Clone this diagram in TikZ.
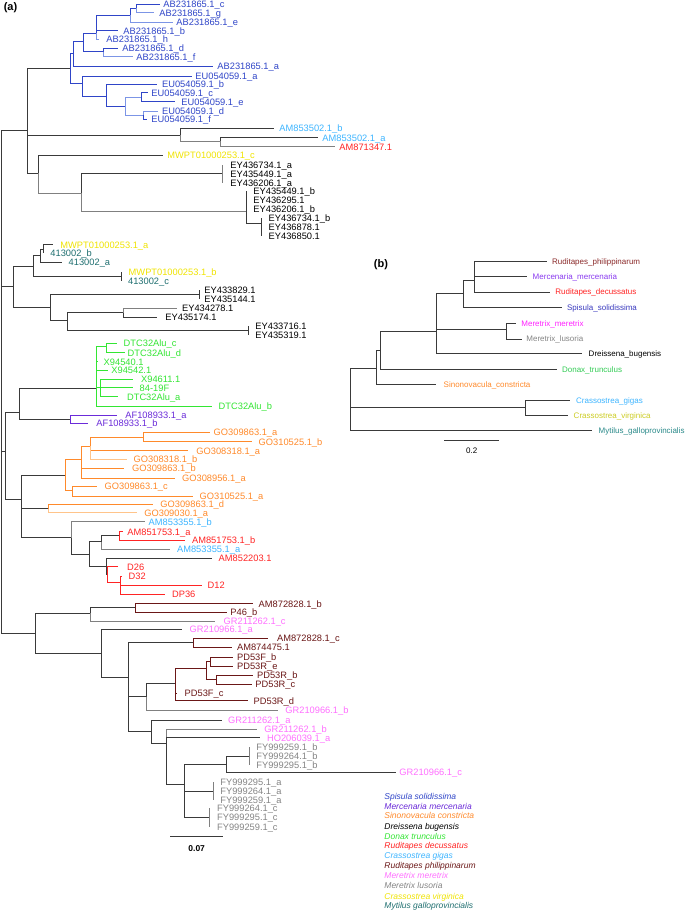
\documentclass[tikz,border=0pt]{standalone}
\usepackage{fontspec}
\setmainfont{Liberation Sans}
\definecolor{cSp}{HTML}{2F45C8}
\definecolor{cSpL}{HTML}{7C95E6}
\definecolor{cMe}{HTML}{6B2BD9}
\definecolor{cSi}{HTML}{FF8A2B}
\definecolor{cSiL}{HTML}{FFC48A}
\definecolor{cDo}{HTML}{33E633}
\definecolor{cRd}{HTML}{FF2424}
\definecolor{cCg}{HTML}{3DB5FF}
\definecolor{cRp}{HTML}{6B1717}
\definecolor{cMm}{HTML}{FF70FF}
\definecolor{cMl}{HTML}{858585}
\definecolor{cCv}{HTML}{F0E400}
\definecolor{cMg}{HTML}{1F6F70}
\definecolor{ln}{HTML}{3A3A3A}
\definecolor{lnG}{HTML}{808080}
\definecolor{bRp}{HTML}{8B2A2A}
\definecolor{bMe}{HTML}{8A3BF0}
\definecolor{bSp}{HTML}{3A3ABF}
\definecolor{bMm}{HTML}{FF22FF}
\definecolor{bDo}{HTML}{33CC55}
\definecolor{bCv}{HTML}{CCCC22}
\definecolor{bMg}{HTML}{2A8A8A}
\newcommand\nd[3]{\coordinate (#1) at (#2,#3);}
\newcommand\lf[6]{\coordinate (#1) at (#2,#3);\node[lab,text=#5] (#1t) at (#4,#3+3.3) {#6};}
\newcommand\lbb[6]{\coordinate (#1) at (#2,#3);\node[labb,text=#5] (#1t) at (#4,#3+2.9) {#6};}
\newcommand\ed[3][ln]{\draw[#1] (#2) |- (#3);}
\begin{document}
\begin{tikzpicture}[x=1pt,y=-1pt,line width=0.85pt,
  lab/.style={anchor=base west,inner sep=0pt,font=\fontsize{9.3}{10}\selectfont},
  labb/.style={anchor=base west,inner sep=0pt,font=\fontsize{8}{9}\selectfont},
  leg/.style={anchor=base west,inner sep=0pt,font=\fontsize{8.5}{9}\selectfont\itshape},
  panel/.style={inner sep=0pt,font=\fontsize{11}{12}\selectfont\bfseries}]
\useasboundingbox (0,0) rectangle (685,911);
\fill[white] (0,0) rectangle (685,911);
\node[panel] (pa) at (10.5,8) {(a)};
\node[panel] (pb) at (381,265) {(b)};
% ---------- tree (a) : top ----------
\nd{R}{1.7}{380}
\nd{T}{27}{130} \ed{R}{T}
\nd{Nb}{70}{68.3} \ed{T}{Nb}
\nd{Nam}{180}{135} \ed{T}{Nam}
\nd{Nmy}{38.3}{173.3} \ed{T}{Nmy}
% blue clade
\nd{Nab}{73.3}{53.3} \ed[cSp]{Nb}{Nab}
\nd{Neu}{82.7}{83.3} \ed[cSp]{Nb}{Neu}
\nd{Nab2}{83.3}{41.7} \ed[cSp]{Nab}{Nab2}
\lf{ABa}{213}{66}{217}{cSp}{AB231865.1\_a} \ed[cSp]{Nab}{ABa}
\nd{Nab3}{96.7}{33.3} \ed[cSp]{Nab2}{Nab3}
\nd{Ndf}{103.3}{51.7} \ed[cSp]{Nab2}{Ndf}
\nd{Nceg}{130}{15} \ed[cSp]{Nab3}{Nceg}
\lf{ABb}{118.3}{30.7}{123}{cSp}{AB231865.1\_b} \ed[cSp]{Nab3}{ABb}
\lf{ABh}{99.3}{39.3}{106}{cSp}{AB231865.1\_h} \ed[cSpL]{Nab3}{ABh}
\nd{Ncg}{136.7}{8} \ed[cSp]{Nceg}{Ncg}
\lf{ABe}{173}{22.3}{176}{cSp}{AB231865.1\_e} \ed[cSpL]{Nceg}{ABe}
\lf{ABc}{160}{4}{163}{cSp}{AB231865.1\_c} \ed[cSp]{Ncg}{ABc}
\lf{ABg}{154}{12.7}{159}{cSp}{AB231865.1\_g} \ed[cSpL]{Ncg}{ABg}
\lf{ABd}{118.3}{48.3}{122}{cSp}{AB231865.1\_d} \ed[cSp]{Ndf}{ABd}
\lf{ABf}{133}{56.7}{136}{cSp}{AB231865.1\_f} \ed[cSpL]{Ndf}{ABf}
\lf{EUa}{192}{76}{195}{cSp}{EU054059.1\_a} \ed[cSp]{Neu}{EUa}
\nd{Neu2}{106.7}{96.7} \ed[cSp]{Neu}{Neu2}
\lf{EUb}{157}{84.3}{161.7}{cSp}{EU054059.1\_b} \ed[cSp]{Neu2}{EUb}
\nd{Neu3}{125}{106.7} \ed[cSp]{Neu2}{Neu3}
\nd{Nce}{141.7}{97} \ed[cSpL]{Neu3}{Nce}
\nd{Ndf2}{143.3}{115} \ed[cSpL]{Neu3}{Ndf2}
\lf{EUc}{148.3}{92.7}{151}{cSp}{EU054059.1\_c} \ed[cSp]{Nce}{EUc}
\lf{EUe}{175}{101.7}{181}{cSp}{EU054059.1\_e} \ed[cSp]{Nce}{EUe}
\lf{EUd}{158}{111}{161.7}{cSp}{EU054059.1\_d} \ed[cSpL]{Ndf2}{EUd}
\lf{EUf}{146.7}{119.3}{151}{cSp}{EU054059.1\_f} \ed[cSp]{Ndf2}{EUf}
% AM clade
\lf{AMb}{274}{128.3}{279}{cCg}{AM853502.1\_b} \ed{Nam}{AMb}
\nd{Nam2}{220}{141} \ed[lnG]{Nam}{Nam2}
\lf{AMa}{318}{137.7}{322}{cCg}{AM853502.1\_a} \ed{Nam2}{AMa}
\lf{AMr}{335}{146.7}{339}{cRd}{AM871347.1} \ed[lnG]{Nam2}{AMr}
% MWPT / EY clade
\lf{MWc}{163.3}{155.6}{167}{cCv}{MWPT01000253.1\_c} \ed{Nmy}{MWc}
\nd{Ney}{81.7}{193.3} \ed[lnG]{Nmy}{Ney}
\nd{Ney1}{222.7}{173.7} \ed{Ney}{Ney1}
\lf{E1}{222.7}{165}{230}{black}{EY436734.1\_a} \ed[lnG]{Ney1}{E1}
\lf{E2}{222.7}{173.7}{230}{black}{EY435449.1\_a} \ed[lnG]{Ney1}{E2}
\lf{E3}{222.7}{182.7}{230}{black}{EY436206.1\_a} \ed[lnG]{Ney1}{E3}
\nd{Ney2}{246.7}{211.7} \ed[lnG]{Ney}{Ney2}
\lf{E4}{246.7}{190.7}{253}{black}{EY435449.1\_b} \ed{Ney2}{E4}
\lf{E5}{246.7}{200}{253}{black}{EY436295.1} \ed{Ney2}{E5}
\lf{E6}{246.7}{209.3}{253}{black}{EY436206.1\_b} \ed{Ney2}{E6}
\nd{Ney3}{261.7}{223.3} \ed{Ney2}{Ney3}
\lf{E7}{261.7}{218.3}{268.3}{black}{EY436734.1\_b} \ed{Ney3}{E7}
\lf{E8}{261.7}{227.3}{268.3}{black}{EY436878.1} \ed{Ney3}{E8}
\lf{E9}{261.7}{236.3}{268.3}{black}{EY436850.1} \ed{Ney3}{E9}
% ---------- middle ----------
\nd{Nmid}{13.3}{286.7} \ed{R}{Nmid}
\nd{Nmw}{33.7}{266} \ed{Nmid}{Nmw}
\nd{Ney4}{50}{307.3} \ed{Nmid}{Ney4}
\nd{N413}{40}{255} \ed{Nmw}{N413}
\nd{Nmwa}{43.3}{249} \ed{N413}{Nmwa}
\lf{MWa}{53.3}{244.7}{60}{cCv}{MWPT01000253.1\_a} \ed{Nmwa}{MWa}
\lf{Tb}{43.3}{253.3}{50}{cMg}{413002\_b} \ed{Nmwa}{Tb}
\lf{Ta}{61.7}{262.3}{68.3}{cMg}{413002\_a} \ed{N413}{Ta}
\nd{Nmwb}{121.7}{276.5} \ed{Nmw}{Nmwb}
\lf{MWb}{121.7}{272.3}{128.3}{cCv}{MWPT01000253.1\_b} \ed{Nmwb}{MWb}
\lf{Tc}{121.7}{281}{127.7}{cMg}{413002\_c} \ed{Nmwb}{Tc}
\nd{Neya}{199.3}{294.5} \ed{Ney4}{Neya}
\lf{E10}{199.3}{290}{204}{black}{EY433829.1} \ed{Neya}{E10}
\lf{E11}{199.3}{299}{204}{black}{EY435144.1} \ed{Neya}{E11}
\nd{Neyb}{67.7}{320} \ed{Ney4}{Neyb}
\nd{Neyc}{123.3}{312.7} \ed{Neyb}{Neyc}
\lf{E12}{176.7}{308.3}{181.7}{black}{EY434278.1} \ed[lnG]{Neyc}{E12}
\lf{E13}{157.3}{317.3}{165}{black}{EY435174.1} \ed{Neyc}{E13}
\nd{Neyd}{248.3}{330.5} \ed{Neyb}{Neyd}
\lf{E14}{248.3}{326}{255}{black}{EY433716.1} \ed{Neyd}{E14}
\lf{E15}{248.3}{335}{255}{black}{EY435319.1} \ed{Neyd}{E15}
% green & purple
\nd{Nx}{5.7}{451} \ed{R}{Nx}
\nd{Ngp}{19.3}{412.7} \ed{Nx}{Ngp}
\nd{Nor}{21.7}{499.3} \ed{Nx}{Nor}
\nd{Ngr0}{96}{388.3} \ed{Ngp}{Ngr0}
\nd{Npur}{70}{419.3} \ed{Ngp}{Npur}
\nd{Ncd}{106.7}{346} \ed[cDo]{Ngr0}{Ncd}
\lf{G1}{117.3}{343.3}{123.3}{cDo}{DTC32Alu\_c} \ed[cDo]{Ncd}{G1}
\lf{G2}{125}{352.7}{127.3}{cDo}{DTC32Alu\_d} \ed[cDo]{Ncd}{G2}
\lf{G3}{98.3}{361.7}{103.3}{cDo}{X94540.1} \ed[cDo]{Ngr0}{G3}
\lf{G4}{107.7}{370.3}{111}{cDo}{X94542.1} \ed[cDo]{Ngr0}{G4}
\nd{N3}{100}{387.5} \ed[cDo]{Ngr0}{N3}
\lf{G5}{133.3}{379.3}{140.7}{cDo}{X94611.1} \ed[cDo]{N3}{G5}
\lf{G6}{133.3}{387.7}{139.3}{cDo}{84-19F} \ed[cDo]{N3}{G6}
\lf{G7}{118.3}{396.7}{126.7}{cDo}{DTC32Alu\_a} \ed[cDo]{N3}{G7}
\lf{G8}{211.7}{406}{218.3}{cDo}{DTC32Alu\_b} \ed[cDo]{Ngr0}{G8}
\lf{P1}{117.3}{415}{125}{cMe}{AF108933.1\_a} \ed[cMe]{Npur}{P1}
\lf{P2}{88.3}{423.3}{96}{cMe}{AF108933.1\_b} \ed[cMe]{Npur}{P2}
% orange
\nd{No1}{65}{475.7} \ed{Nor}{No1}
\nd{No5}{48.3}{508.5} \ed{Nor}{No5}
\nd{Nred}{71.7}{537.7} \ed{Nor}{Nred}
\nd{No2}{81}{459.3} \ed[cSi]{No1}{No2}
\nd{No3}{72.7}{490.5} \ed[cSi]{No1}{No3}
\nd{No4}{90.7}{446} \ed[cSi]{No2}{No4}
\lf{O1}{124}{468.3}{131.7}{cSi}{GO309863.1\_b} \ed[cSi]{No2}{O1}
\lf{O2}{175}{478.3}{181.7}{cSi}{GO308956.1\_a} \ed[cSi]{No2}{O2}
\nd{Noa}{143.3}{437} \ed[cSi]{No4}{Noa}
\lf{O3}{188.3}{450.7}{196}{cSi}{GO308318.1\_a} \ed[cSi]{No4}{O3}
\lf{O4}{127}{459.3}{133.3}{cSi}{GO308318.1\_b} \ed[cSiL]{No4}{O4}
\lf{O5}{210}{432.3}{213.3}{cSi}{GO309863.1\_a} \ed[cSi]{Noa}{O5}
\lf{O6}{251.7}{441.7}{258.3}{cSi}{GO310525.1\_b} \ed[cSi]{Noa}{O6}
\lf{O7}{97}{486}{104.3}{cSi}{GO309863.1\_c} \ed[cSi]{No3}{O7}
\lf{O8}{193.3}{496}{199.3}{cSi}{GO310525.1\_a} \ed[cSi]{No3}{O8}
\lf{O9}{153.3}{504.3}{160}{cSi}{GO309863.1\_d} \ed[cSi]{No5}{O9}
\lf{O10}{136.7}{512.7}{144}{cSi}{GO309030.1\_a} \ed[cSiL]{No5}{O10}
% red
\lf{C1}{145}{521.7}{148.3}{cCg}{AM853355.1\_b} \ed[lnG]{Nred}{C1}
\nd{Nr2}{89.3}{554} \ed{Nred}{Nr2}
\nd{Nr3}{101.7}{541.7} \ed{Nr2}{Nr3}
\nd{Nr4}{106}{566} \ed{Nr2}{Nr4}
\nd{Nr5}{119.3}{535} \ed{Nr3}{Nr5}
\lf{C2}{170}{549.3}{176.7}{cCg}{AM853355.1\_a} \ed[lnG]{Nr3}{C2}
\lf{D1}{122.7}{531.7}{127}{cRd}{AM851753.1\_a} \ed[cRd]{Nr5}{D1}
\lf{D2}{185}{540}{191.7}{cRd}{AM851753.1\_b} \ed[cRd]{Nr5}{D2}
\lf{D3}{211.7}{558}{218.3}{cRd}{AM852203.1} \ed{Nr4}{D3}
\nd{Nr6}{107.3}{574} \ed{Nr4}{Nr6}
\lf{D4}{118.3}{566.7}{126.7}{cRd}{D26} \ed[cRd]{Nr6}{D4}
\nd{Nr7}{120.7}{582} \ed[cRd]{Nr6}{Nr7}
\lf{D5}{121.7}{576}{128.3}{cRd}{D32} \ed[cRd]{Nr7}{D5}
\lf{D6}{201.7}{585}{207.3}{cRd}{D12} \ed[cRd]{Nr7}{D6}
\lf{D7}{165}{594}{171.7}{cRd}{DP36} \ed[cRd]{Nr7}{D7}
% ---------- bottom ----------
\nd{Nbot}{35}{633.3} \ed{R}{Nbot}
\nd{Np}{90.7}{613.3} \ed{Nbot}{Np}
\nd{Nb2}{101.7}{653.3} \ed{Nbot}{Nb2}
\nd{Np46}{135}{607} \ed{Np}{Np46}
\lf{F1}{215}{621.3}{223.3}{cMm}{GR211262.1\_c} \ed[lnG]{Np}{F1}
\lf{F2}{253.3}{603.7}{258.3}{cRp}{AM872828.1\_b} \ed[cRp]{Np46}{F2}
\lf{F3}{226.7}{612.3}{230}{cRp}{P46\_b} \ed[cRp]{Np46}{F3}
\lf{F4}{181.7}{629.5}{189.3}{cMm}{GR210966.1\_a} \ed{Nb2}{F4}
\nd{Nq}{128.3}{677.3} \ed{Nb2}{Nq}
\nd{Nam8}{193.3}{642.7} \ed{Nq}{Nam8}
\nd{Npd}{146.7}{696.7} \ed{Nq}{Npd}
\nd{Ngr}{151.7}{731.7} \ed{Nq}{Ngr}
\lf{F5}{268.3}{638.3}{276.7}{cRp}{AM872828.1\_c} \ed[cRp]{Nam8}{F5}
\lf{F6}{231.7}{647}{236.7}{cRp}{AM874475.1} \ed[cRp]{Nam8}{F6}
\nd{Npd2}{175}{683.3} \ed{Npd}{Npd2}
\lf{F7}{278.3}{710.5}{285}{cMm}{GR210966.1\_b} \ed[lnG]{Npd}{F7}
\nd{Npd3}{206.7}{668.3} \ed[cRp]{Npd2}{Npd3}
\lf{F8}{177.3}{693.3}{184.3}{cRp}{PD53F\_c} \ed[cRp]{Npd2}{F8}
\lf{F9}{248.3}{700.7}{253.3}{cRp}{PD53R\_d} \ed[cRp]{Npd2}{F9}
\nd{Npd4}{210}{661} \ed[cRp]{Npd3}{Npd4}
\nd{Npd5}{216.7}{679.5} \ed[cRp]{Npd3}{Npd5}
\lf{F10}{233.3}{657.3}{236.7}{cRp}{PD53F\_b} \ed[cRp]{Npd4}{F10}
\lf{F11}{233.3}{666}{236.7}{cRp}{PD53R\_e} \ed[cRp]{Npd4}{F11}
\lf{F12}{253.3}{675}{256.7}{cRp}{PD53R\_b} \ed[cRp]{Npd5}{F12}
\lf{F13}{251.7}{684}{255}{cRp}{PD53R\_c} \ed[cRp]{Npd5}{F13}
\lf{F14}{221.7}{720}{227.7}{cMm}{GR211262.1\_a} \ed{Ngr}{F14}
\nd{Ngr2}{166}{743.3} \ed{Ngr}{Ngr2}
\lf{F15}{256.7}{729.3}{264}{cMm}{GR211262.1\_b} \ed[lnG]{Ngr2}{F15}
\lf{F16}{260}{737.7}{266.7}{cMm}{HO206039.1\_a} \ed{Ngr2}{F16}
\nd{Nfy}{184}{784} \ed{Ngr2}{Nfy}
\nd{Nfy1}{226.7}{764} \ed{Nfy}{Nfy1}
\nd{Nfy2}{213.3}{791} \ed{Nfy}{Nfy2}
\nd{Nfy3}{209.3}{817.3} \ed{Nfy}{Nfy3}
\nd{Nfyb}{249.3}{756} \ed{Nfy1}{Nfyb}
\lf{F17}{396}{772}{399}{cMm}{GR210966.1\_c} \ed{Nfy1}{F17}
\lf{Y1}{249.3}{747.3}{256}{cMl}{FY999259.1\_b} \ed[lnG]{Nfyb}{Y1}
\lf{Y2}{249.3}{756}{256}{cMl}{FY999264.1\_b} \ed[lnG]{Nfyb}{Y2}
\lf{Y3}{249.3}{765}{256}{cMl}{FY999295.1\_b} \ed[lnG]{Nfyb}{Y3}
\lf{Y4}{213.3}{782}{220}{cMl}{FY999295.1\_a} \ed[lnG]{Nfy2}{Y4}
\lf{Y5}{213.3}{791}{220}{cMl}{FY999264.1\_a} \ed[lnG]{Nfy2}{Y5}
\lf{Y6}{213.3}{800}{220}{cMl}{FY999259.1\_a} \ed[lnG]{Nfy2}{Y6}
\lf{Y7}{209.3}{808.3}{216.7}{cMl}{FY999264.1\_c} \ed[lnG]{Nfy3}{Y7}
\lf{Y8}{209.3}{817.3}{216.7}{cMl}{FY999295.1\_c} \ed[lnG]{Nfy3}{Y8}
\lf{Y9}{209.3}{826.7}{216.7}{cMl}{FY999259.1\_c} \ed[lnG]{Nfy3}{Y9}
% scale bar (a)
\coordinate (sa1) at (170,836.7);
\coordinate (sa2) at (223.3,836.7);
\draw[ln] (sa1) -- (sa2);
\node[inner sep=0pt,font=\fontsize{8.5}{9}\selectfont\bfseries] (sat) at (196.7,848.3) {0.07};
% ---------- tree (b) ----------
\nd{Rb}{350.7}{400}
\nd{Bn1}{376}{368.3} \ed{Rb}{Bn1}
\nd{Bcr}{525}{407.7} \ed{Rb}{Bcr}
\lbb{Bmy}{591.7}{430.7}{598.3}{bMg}{Mytilus\_galloprovincialis} \ed{Rb}{Bmy}
\nd{Bn2}{380.7}{350} \ed{Bn1}{Bn2}
\lbb{Bsi}{436}{384.3}{443.3}{cSi}{Sinonovacula\_constricta} \ed{Bn1}{Bsi}
\nd{Bn3}{436.7}{331.7} \ed{Bn2}{Bn3}
\lbb{Bdo}{556.7}{369.3}{561.7}{bDo}{Donax\_trunculus} \ed{Bn2}{Bdo}
\nd{Bn4}{463.3}{293.3} \ed{Bn3}{Bn4}
\nd{Bme}{506.7}{329.3} \ed{Bn3}{Bme}
\lbb{Bdr}{581.7}{353.5}{588.3}{black}{Dreissena\_bugensis} \ed{Bn3}{Bdr}
\nd{Bn5}{474}{280} \ed{Bn4}{Bn5}
\lbb{Bsp}{561.7}{307.5}{566.7}{bSp}{Spisula\_solidissima} \ed{Bn4}{Bsp}
\lbb{Brp}{546.7}{261.5}{551.7}{bRp}{Ruditapes\_philippinarum} \ed{Bn5}{Brp}
\lbb{Bmc}{526.7}{276.5}{532.3}{bMe}{Mercenaria\_mercenaria} \ed{Bn5}{Bmc}
\lbb{Brd}{550}{292}{555}{cRd}{Ruditapes\_decussatus} \ed{Bn5}{Brd}
\lbb{Bmm}{515.7}{323.3}{521}{bMm}{Meretrix\_meretrix} \ed{Bme}{Bmm}
\lbb{Bml}{521.7}{339}{526}{cMl}{Meretrix\_lusoria} \ed{Bme}{Bml}
\lbb{Bcg}{570}{400.7}{575.7}{cCg}{Crassostrea\_gigas} \ed{Bcr}{Bcg}
\lbb{Bcv}{568.3}{415.7}{573.3}{bCv}{Crassostrea\_virginica} \ed{Bcr}{Bcv}
\coordinate (sb1) at (444,440);
\coordinate (sb2) at (499.3,440);
\draw[ln] (sb1) -- (sb2);
\node[inner sep=0pt,font=\fontsize{8}{9}\selectfont] (sbt) at (471.7,450.5) {0.2};
% ---------- legend ----------
\node[leg,text=cSp] (L1) at (384,799) {Spisula solidissima};
\node[leg,text=cMe] (L2) at (384,809) {Mercenaria mercenaria};
\node[leg,text=cSi] (L3) at (384,818.7) {Sinonovacula constricta};
\node[leg,text=black] (L4) at (384,829) {Dreissena bugensis};
\node[leg,text=cDo] (L5) at (384,839) {Donax trunculus};
\node[leg,text=cRd] (L6) at (384,848.7) {Ruditapes decussatus};
\node[leg,text=cCg] (L7) at (384,858.7) {Crassostrea gigas};
\node[leg,text=cRp] (L8) at (384,868.7) {Ruditapes philippinarum};
\node[leg,text=cMm] (L9) at (384,878.7) {Meretrix meretrix};
\node[leg,text=cMl] (L10) at (384,888.7) {Meretrix lusoria};
\node[leg,text=cCv] (L11) at (384,899) {Crassostrea virginica};
\node[leg,text=cMg] (L12) at (384,908.7) {Mytilus galloprovincialis};
\end{tikzpicture}
\end{document}
